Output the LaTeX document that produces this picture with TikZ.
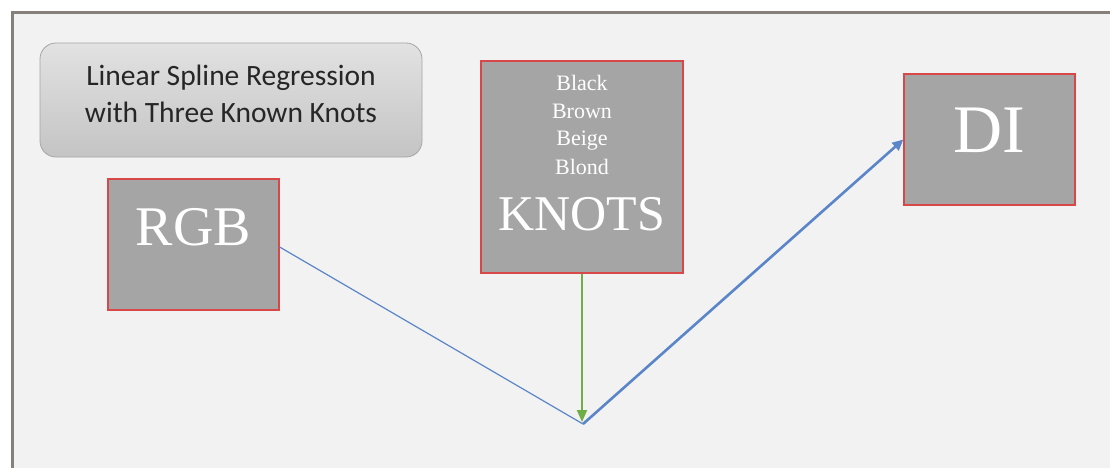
\documentclass[tikz,border=0pt]{standalone}
\usepackage{fontspec}
\setmainfont{Liberation Serif}
\newfontfamily\calib{Carlito}
\usetikzlibrary{arrows.meta,calc}
\definecolor{bgc}{HTML}{F2F2F2}
\definecolor{framec}{HTML}{858079}
\definecolor{boxfill}{HTML}{A5A5A5}
\definecolor{redb}{HTML}{D94848}
\definecolor{blueln}{HTML}{5A85C8}
\definecolor{greenln}{HTML}{70AD47}
\definecolor{titletop}{HTML}{E2E2E2}
\definecolor{titlebot}{HTML}{C4C4C4}
\tikzset{
  graybox/.style={draw=redb, line width=1.3pt, fill=boxfill, inner sep=0pt},
  wtext/.style={text=white, inner sep=0pt, anchor=base},
  titlebox/.style={draw=gray!70, line width=0.8pt, rounded corners=16pt, top color=titletop, bottom color=titlebot, inner sep=0pt},
  ttext/.style={inner sep=0pt, anchor=base, font=\calib\fontsize{29.5}{37}\selectfont, text=black!85},
}
\begin{document}
\begin{tikzpicture}[x=1pt,y=-1pt]
\useasboundingbox (0,0) rectangle (1110,468);
\fill[white] (0,0) rectangle (1110,468);
\draw[framec, line width=3pt, fill=bgc] (12,13) rectangle (1125,485);
% title
\node[titlebox, minimum width=382pt, minimum height=114pt] (title) at (231,100) {};
\node[ttext] (t1) at (231,86) {Linear Spline Regression};
\node[ttext] (t2) at (231,123) {with Three Known Knots};
% boxes
\node[graybox, minimum width=171pt, minimum height=131pt] (rgb) at (193.5,244.5) {};
\node[wtext, font=\fontsize{56}{60}\selectfont] (rgbt) at (193.5,245) {RGB};
\node[graybox, minimum width=202pt, minimum height=212pt] (knots) at (582,167) {};
\node[wtext, font=\fontsize{22}{26}\selectfont] (k1) at (582,91) {Black};
\node[wtext, font=\fontsize{22}{26}\selectfont] (k2) at (582,119) {Brown};
\node[wtext, font=\fontsize{22}{26}\selectfont] (k3) at (582,146) {Beige};
\node[wtext, font=\fontsize{22}{26}\selectfont] (k4) at (582,174) {Blond};
\node[wtext, font=\fontsize{50}{54}\selectfont] (k5) at (582,230) {KNOTS};
\node[graybox, minimum width=171pt, minimum height=131pt] (di) at (989.5,139.5) {};
\node[wtext, font=\fontsize{68}{72}\selectfont] (dit) at (989.5,152) {DI};
% connectors
\coordinate (v) at (583,424);
\coordinate (vg) at (582,422);
\draw[blueln, line width=1.2pt] (rgb.east |- 0,247) -- (v);
\draw[blueln, line width=2.6pt, -{Triangle[length=11pt,width=10pt]}] (v) -- (di.west);
\draw[greenln, line width=2pt, -{Triangle[length=12pt,width=10pt]}] (knots.south) -- (vg);
\end{tikzpicture}
\end{document}
